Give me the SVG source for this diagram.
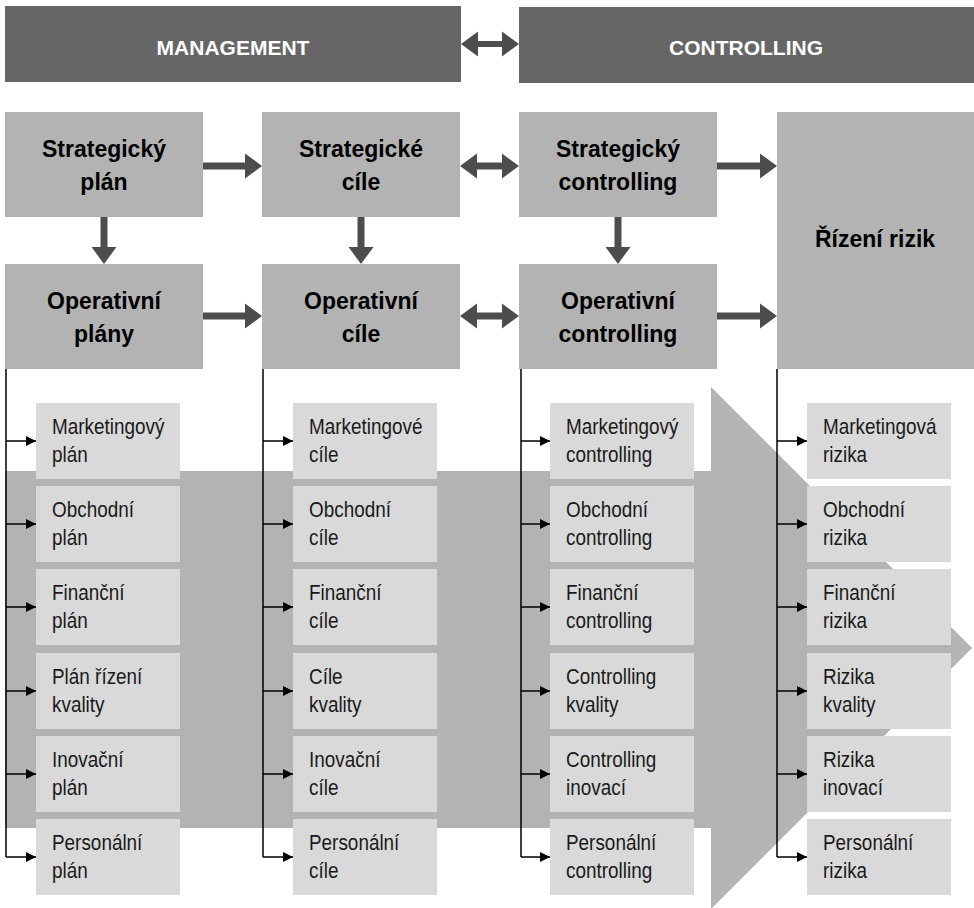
<svg xmlns="http://www.w3.org/2000/svg" width="974" height="908" viewBox="0 0 974 908">
<defs>
<style>
.hdr{fill:#666666}
.hdrt{font-family:"Liberation Sans",Arial,sans-serif;font-weight:bold;font-size:21px;fill:#ffffff;text-anchor:middle}
.bb{fill:#b3b3b3}
.bt{font-family:"Liberation Sans",Arial,sans-serif;font-weight:bold;font-size:23px;fill:#000000;text-anchor:middle}
.sb{fill:#d9d9d9}
.st{font-family:"Liberation Sans",Arial,sans-serif;font-size:22px;fill:#1a1a1a}
.arr{fill:#4d4d4d}
.ln{stroke:#000000;stroke-width:1.5;fill:none}
.br{stroke:#000000;stroke-width:1.5;fill:none;marker-end:url(#sa)}
.band{fill:#b3b3b3}
</style>
<marker id="sa" markerWidth="10" markerHeight="10" refX="10" refY="5" orient="auto" markerUnits="userSpaceOnUse">
<path d="M0,0 L10,5 L0,10 Z" fill="#000000"/>
</marker>
</defs>

<path class="band" d="M5,471 H711 V387 L972,648 L711,909 V828 H5 Z"/>

<g id="management">
<rect class="hdr" x="5" y="6" width="456" height="76"/>
<text class="hdrt" x="233" y="55">MANAGEMENT</text>
</g>
<g id="controlling">
<rect class="hdr" x="519" y="7" width="455" height="76"/>
<text class="hdrt" x="746" y="55">CONTROLLING</text>
</g>

<g id="strategicky-plan">
<rect class="bb" x="5" y="112" width="198" height="105"/>
<text class="bt" x="104" y="157">Strategický<tspan x="104" y="190">plán</tspan></text>
</g>
<g id="strategicke-cile">
<rect class="bb" x="262" y="112" width="198" height="105"/>
<text class="bt" x="361" y="157">Strategické<tspan x="361" y="190">cíle</tspan></text>
</g>
<g id="strategicky-controlling">
<rect class="bb" x="519" y="112" width="198" height="105"/>
<text class="bt" x="618" y="157">Strategický<tspan x="618" y="190">controlling</tspan></text>
</g>
<g id="operativni-plany">
<rect class="bb" x="5" y="264" width="198" height="105"/>
<text class="bt" x="104" y="309">Operativní<tspan x="104" y="342">plány</tspan></text>
</g>
<g id="operativni-cile">
<rect class="bb" x="262" y="264" width="198" height="105"/>
<text class="bt" x="361" y="309">Operativní<tspan x="361" y="342">cíle</tspan></text>
</g>
<g id="operativni-controlling">
<rect class="bb" x="519" y="264" width="198" height="105"/>
<text class="bt" x="618" y="309">Operativní<tspan x="618" y="342">controlling</tspan></text>
</g>
<g id="rizeni-rizik">
<rect class="bb" x="777" y="112" width="197" height="257"/>
<text class="bt" x="875" y="247">Řízení rizik</text>
</g>

<g id="connectors">
<path class="arr" d="M461,44 L478,31.5 V41 H502 V31.5 L519,44 L502,56.5 V47 H478 V56.5 Z"/>
<path class="arr" d="M203,162.5 H245 V153.5 L262,166 L245,178.5 V169.5 H203 Z"/>
<path class="arr" d="M460,166 L477,153.5 V162.5 H502 V153.5 L519,166 L502,178.5 V169.5 H477 V178.5 Z"/>
<path class="arr" d="M717,162.5 H760 V153.5 L777,166 L760,178.5 V169.5 H717 Z"/>
<path class="arr" d="M203,312.5 H245 V303.5 L262,316 L245,328.5 V319.5 H203 Z"/>
<path class="arr" d="M460,316 L477,303.5 V312.5 H502 V303.5 L519,316 L502,328.5 V319.5 H477 V328.5 Z"/>
<path class="arr" d="M717,312.5 H760 V303.5 L777,316 L760,328.5 V319.5 H717 Z"/>
<path class="arr" d="M100.5,217 H107.5 V247 H116.5 L104,264 L91.5,247 H100.5 Z"/>
<path class="arr" d="M357.5,217 H364.5 V247 H373.5 L361,264 L348.5,247 H357.5 Z"/>
<path class="arr" d="M614.5,217 H621.5 V247 H630.5 L618,264 L605.5,247 H614.5 Z"/>
<path class="ln" d="M6,369 V857 M263,369 V857 M521,369 V857 M777,369 V857"/>
<path class="br" d="M6,441 H36"/><path class="br" d="M6,524 H36"/><path class="br" d="M6,607 H36"/><path class="br" d="M6,691 H36"/><path class="br" d="M6,774 H36"/><path class="br" d="M6,857 H36"/>
<path class="br" d="M263,441 H293"/><path class="br" d="M263,524 H293"/><path class="br" d="M263,607 H293"/><path class="br" d="M263,691 H293"/><path class="br" d="M263,774 H293"/><path class="br" d="M263,857 H293"/>
<path class="br" d="M521,441 H550"/><path class="br" d="M521,524 H550"/><path class="br" d="M521,607 H550"/><path class="br" d="M521,691 H550"/><path class="br" d="M521,774 H550"/><path class="br" d="M521,857 H550"/>
<path class="br" d="M777,441 H807"/><path class="br" d="M777,524 H807"/><path class="br" d="M777,607 H807"/><path class="br" d="M777,691 H807"/><path class="br" d="M777,774 H807"/><path class="br" d="M777,857 H807"/>
</g>

<g id="marketingovy-plan"><rect class="sb" x="36" y="403" width="144" height="76"/><text class="st" transform="translate(52,434) scale(0.86,1)"><tspan x="0" y="0">Marketingový</tspan><tspan x="0" y="28">plán</tspan></text></g>
<g id="obchodni-plan"><rect class="sb" x="36" y="486" width="144" height="76"/><text class="st" transform="translate(52,517) scale(0.86,1)"><tspan x="0" y="0">Obchodní</tspan><tspan x="0" y="28">plán</tspan></text></g>
<g id="financni-plan"><rect class="sb" x="36" y="569" width="144" height="76"/><text class="st" transform="translate(52,600) scale(0.86,1)"><tspan x="0" y="0">Finanční</tspan><tspan x="0" y="28">plán</tspan></text></g>
<g id="plan-rizeni-kvality"><rect class="sb" x="36" y="653" width="144" height="76"/><text class="st" transform="translate(52,684) scale(0.86,1)"><tspan x="0" y="0">Plán řízení</tspan><tspan x="0" y="28">kvality</tspan></text></g>
<g id="inovacni-plan"><rect class="sb" x="36" y="736" width="144" height="76"/><text class="st" transform="translate(52,767) scale(0.86,1)"><tspan x="0" y="0">Inovační</tspan><tspan x="0" y="28">plán</tspan></text></g>
<g id="personalni-plan"><rect class="sb" x="36" y="819" width="144" height="76"/><text class="st" transform="translate(52,850) scale(0.86,1)"><tspan x="0" y="0">Personální</tspan><tspan x="0" y="28">plán</tspan></text></g>

<g id="marketingove-cile"><rect class="sb" x="293" y="403" width="144" height="76"/><text class="st" transform="translate(309,434) scale(0.86,1)"><tspan x="0" y="0">Marketingové</tspan><tspan x="0" y="28">cíle</tspan></text></g>
<g id="obchodni-cile"><rect class="sb" x="293" y="486" width="144" height="76"/><text class="st" transform="translate(309,517) scale(0.86,1)"><tspan x="0" y="0">Obchodní</tspan><tspan x="0" y="28">cíle</tspan></text></g>
<g id="financni-cile"><rect class="sb" x="293" y="569" width="144" height="76"/><text class="st" transform="translate(309,600) scale(0.86,1)"><tspan x="0" y="0">Finanční</tspan><tspan x="0" y="28">cíle</tspan></text></g>
<g id="cile-kvality"><rect class="sb" x="293" y="653" width="144" height="76"/><text class="st" transform="translate(309,684) scale(0.86,1)"><tspan x="0" y="0">Cíle</tspan><tspan x="0" y="28">kvality</tspan></text></g>
<g id="inovacni-cile"><rect class="sb" x="293" y="736" width="144" height="76"/><text class="st" transform="translate(309,767) scale(0.86,1)"><tspan x="0" y="0">Inovační</tspan><tspan x="0" y="28">cíle</tspan></text></g>
<g id="personalni-cile"><rect class="sb" x="293" y="819" width="144" height="76"/><text class="st" transform="translate(309,850) scale(0.86,1)"><tspan x="0" y="0">Personální</tspan><tspan x="0" y="28">cíle</tspan></text></g>

<g id="marketingovy-controlling"><rect class="sb" x="550" y="403" width="144" height="76"/><text class="st" transform="translate(566,434) scale(0.86,1)"><tspan x="0" y="0">Marketingový</tspan><tspan x="0" y="28">controlling</tspan></text></g>
<g id="obchodni-controlling"><rect class="sb" x="550" y="486" width="144" height="76"/><text class="st" transform="translate(566,517) scale(0.86,1)"><tspan x="0" y="0">Obchodní</tspan><tspan x="0" y="28">controlling</tspan></text></g>
<g id="financni-controlling"><rect class="sb" x="550" y="569" width="144" height="76"/><text class="st" transform="translate(566,600) scale(0.86,1)"><tspan x="0" y="0">Finanční</tspan><tspan x="0" y="28">controlling</tspan></text></g>
<g id="controlling-kvality"><rect class="sb" x="550" y="653" width="144" height="76"/><text class="st" transform="translate(566,684) scale(0.86,1)"><tspan x="0" y="0">Controlling</tspan><tspan x="0" y="28">kvality</tspan></text></g>
<g id="controlling-inovaci"><rect class="sb" x="550" y="736" width="144" height="76"/><text class="st" transform="translate(566,767) scale(0.86,1)"><tspan x="0" y="0">Controlling</tspan><tspan x="0" y="28">inovací</tspan></text></g>
<g id="personalni-controlling"><rect class="sb" x="550" y="819" width="144" height="76"/><text class="st" transform="translate(566,850) scale(0.86,1)"><tspan x="0" y="0">Personální</tspan><tspan x="0" y="28">controlling</tspan></text></g>

<g id="marketingova-rizika"><rect class="sb" x="807" y="403" width="144" height="76"/><text class="st" transform="translate(823,434) scale(0.86,1)"><tspan x="0" y="0">Marketingová</tspan><tspan x="0" y="28">rizika</tspan></text></g>
<g id="obchodni-rizika"><rect class="sb" x="807" y="486" width="144" height="76"/><text class="st" transform="translate(823,517) scale(0.86,1)"><tspan x="0" y="0">Obchodní</tspan><tspan x="0" y="28">rizika</tspan></text></g>
<g id="financni-rizika"><rect class="sb" x="807" y="569" width="144" height="76"/><text class="st" transform="translate(823,600) scale(0.86,1)"><tspan x="0" y="0">Finanční</tspan><tspan x="0" y="28">rizika</tspan></text></g>
<g id="rizika-kvality"><rect class="sb" x="807" y="653" width="144" height="76"/><text class="st" transform="translate(823,684) scale(0.86,1)"><tspan x="0" y="0">Rizika</tspan><tspan x="0" y="28">kvality</tspan></text></g>
<g id="rizika-inovaci"><rect class="sb" x="807" y="736" width="144" height="76"/><text class="st" transform="translate(823,767) scale(0.86,1)"><tspan x="0" y="0">Rizika</tspan><tspan x="0" y="28">inovací</tspan></text></g>
<g id="personalni-rizika"><rect class="sb" x="807" y="819" width="144" height="76"/><text class="st" transform="translate(823,850) scale(0.86,1)"><tspan x="0" y="0">Personální</tspan><tspan x="0" y="28">rizika</tspan></text></g>
</svg>
